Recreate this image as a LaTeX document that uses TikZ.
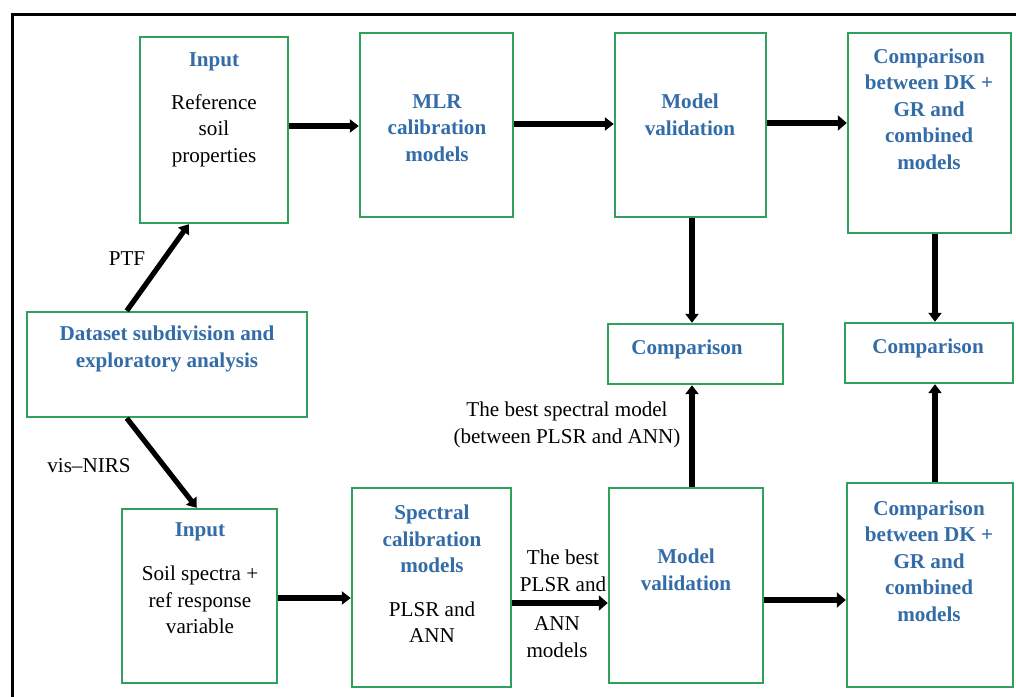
\documentclass[tikz,border=0pt]{standalone}
\usepackage{fontspec}
\setmainfont{Liberation Serif}
\usetikzlibrary{arrows.meta}
\definecolor{boxgreen}{RGB}{48,160,92}
\definecolor{txtblue}{RGB}{52,108,168}
\tikzset{
  box/.style={draw=boxgreen, line width=2.4bp, rectangle, inner sep=0pt, fill=white},
  ttl/.style={text=txtblue, font=\fontsize{21.2}{26.6}\selectfont\bfseries, align=center, inner sep=0pt},
  txt/.style={text=black, font=\fontsize{21.2}{26.6}\selectfont, align=center, inner sep=0pt},
  arr/.style={draw=black, line width=5.2bp, -{Triangle[length=9bp,width=13bp]}},
  arrb/.style={draw=black, line width=6.5bp, -{Triangle[length=9bp,width=15bp]}}
}
\begin{document}
\begin{tikzpicture}[x=1bp,y=-1bp]
\useasboundingbox (0,0) rectangle (1016,697);
\clip (0,0) rectangle (1016,697);
\draw[line width=3bp] (12,15) rectangle (1040,720);
% boxes
\node[box, minimum width=148bp, minimum height=186bp] (in1) at (214,130) {};
\node[box, minimum width=153bp, minimum height=184bp] (mlr) at (436.5,125) {};
\node[box, minimum width=151bp, minimum height=184bp] (mv1) at (690.5,125) {};
\node[box, minimum width=163bp, minimum height=200bp] (cmp1) at (929.5,133) {};
\node[box, minimum width=280bp, minimum height=105bp] (ds) at (167,364.5) {};
\node[box, minimum width=155bp, minimum height=174bp] (in2) at (199.5,596) {};
\node[box, minimum width=159bp, minimum height=199bp] (spec) at (431.5,587.5) {};
\node[box, minimum width=154bp, minimum height=195bp] (mv2) at (686,585.5) {};
\node[box, minimum width=166bp, minimum height=204bp] (cmp2) at (930,585) {};
\node[box, minimum width=175bp, minimum height=60bp] (c1) at (695.5,354) {};
\node[box, minimum width=168bp, minimum height=60bp] (c2) at (929,353) {};
% texts
\node[ttl] (in1t) at (214,62) {Input};
\node[txt, anchor=north] (in1b) at (214,94) {Reference\\soil\\properties};
\node[ttl] (mlrt) at (437,128) {MLR\\calibration\\models};
\node[ttl] (mv1t) at (690,115) {Model\\validation};
\node[ttl] (cmp1t) at (929,109) {Comparison\\between DK +\\GR and\\combined\\models};
\node[ttl] (dst) at (167,349) {Dataset subdivision and\\exploratory analysis};
\node[ttl] (in2t) at (200,532) {Input};
\node[txt, anchor=north] (in2b) at (200,566) {Soil spectra +\\ref response\\variable};
\node[ttl] (spect) at (432,539) {Spectral\\calibration\\models};
\node[txt] (specb) at (432,622) {PLSR and\\ANN};
\node[ttl] (mv2t) at (686,570) {Model\\validation};
\node[ttl] (cmp2t) at (929,561) {Comparison\\between DK +\\GR and\\combined\\models};
\node[ttl] (c1t) at (687,349) {Comparison};
\node[ttl] (c2t) at (928,348) {Comparison};
% labels
\node[txt] (ptf) at (127,259) {PTF};
\node[txt] (nirs) at (89,466) {vis--NIRS};
\node[txt] (lb1) at (563,571) {The best\\PLSR and};
\node[txt] (lb2) at (557,637) {ANN\\models};
\node[txt] (lb3) at (567,425) {The best spectral model\\(between PLSR and ANN)};
% connectors
\draw[arr] ([xshift=101bp]ds.north west) -- ([xshift=50bp]in1.south west);
\draw[arr] ([xshift=101bp]ds.south west) -- ([xshift=76bp]in2.north west);
\draw[arr] (in1.east |- 0,126) -- (mlr.west |- 0,126);
\draw[arr] (mlr.east |- 0,124) -- (mv1.west |- 0,124);
\draw[arrb] (mv1.east |- 0,123) -- (cmp1.west |- 0,123);
\draw[arr] (mv1.south -| 692,0) -- (c1.north -| 692,0);
\draw[arr] (cmp1.south -| 935,0) -- (c2.north -| 935,0);
\draw[arr] (mv2.north -| 692,0) -- (c1.south -| 692,0);
\draw[arr] (cmp2.north -| 935,0) -- (c2.south -| 935,0);
\draw[arr] (in2.east |- 0,598) -- (spec.west |- 0,598);
\draw[arrb] (spec.east |- 0,603) -- (mv2.west |- 0,603);
\draw[arrb] (mv2.east |- 0,600) -- (cmp2.west |- 0,600);
\end{tikzpicture}
\end{document}
